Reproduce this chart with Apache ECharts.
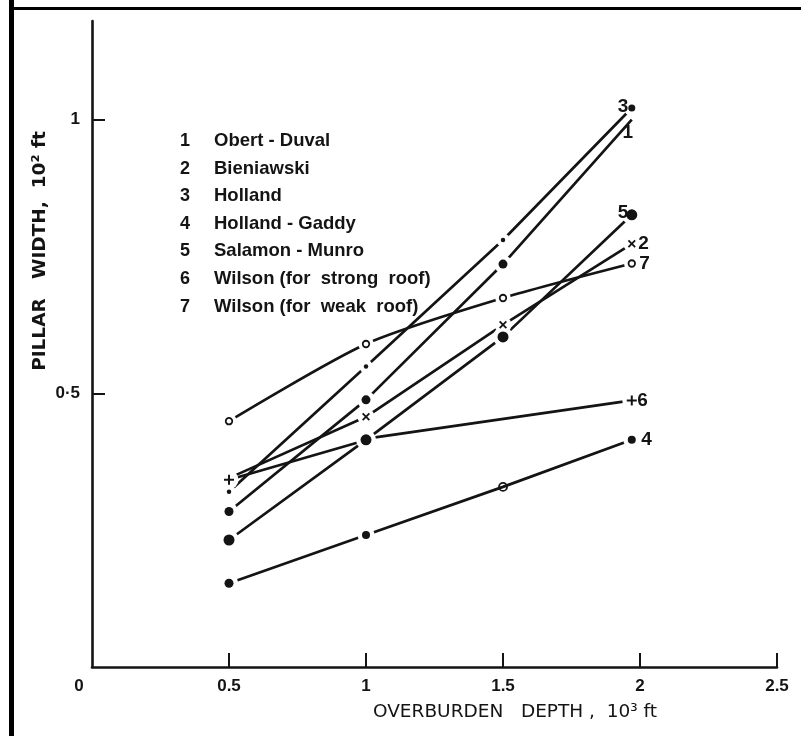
<!DOCTYPE html>
<html>
<head>
<meta charset="utf-8">
<script src="https://cdn.jsdelivr.net/npm/echarts@6/dist/echarts.min.js"></script>
<style>
  html, body { margin: 0; padding: 0; background: #ffffff; }
  #chart { width: 801px; height: 736px; }
</style>
</head>
<body>
<div id="chart"></div>
<script>
// Overburden depth stations, 10^3 ft
const depthStations = [0.5, 1.0, 1.5, 1.97];
const depthWilsonStrong = [0.5, 1.04, 1.97];

// Required pillar width, 10^2 ft, for each design formula
const obertDuval   = [0.284, 0.488, 0.736, 1.0];
const bieniawski   = [0.345, 0.457, 0.625, 0.773];
const holland      = [0.32, 0.549, 0.780, 1.021];
const hollandGaddy = [0.153, 0.241, 0.329, 0.415];
const salamonMunro = [0.232, 0.415, 0.603, 0.826];
const wilsonStrong = [0.342, 0.42, 0.487];
const wilsonWeak   = [0.449, 0.590, 0.674, 0.737];

const formulaNames = [
  'Obert - Duval', 'Bieniawski', 'Holland', 'Holland - Gaddy',
  'Salamon - Munro', 'Wilson (for  strong  roof)', 'Wilson (for  weak  roof)'
];
const curveTags = ['1', '2', '3', '4', '5', '6', '7'];
const xTicks = [0, 0.5, 1, 1.5, 2, 2.5];
const yTicks = [0.5, 1];

const INK = '#141414';
const FONT = '"Liberation Sans", Arial, sans-serif';
const WIDE_FONT = '"DejaVu Sans", "Liberation Sans", sans-serif';

// marker glyphs
const X_PATH = 'path://M0,1.6L1.6,0L5,3.4L8.4,0L10,1.6L6.6,5L10,8.4L8.4,10L5,6.6L1.6,10L0,8.4L3.4,5Z';
const PLUS_PATH = 'path://M4,0H6V4H10V6H6V10H4V6H0V4H4Z';
const MARK = {
  dot4:  { symbol: 'circle', size: 4.5, fill: INK },
  dot7:  { symbol: 'circle', size: 7,  fill: INK },
  dot8:  { symbol: 'circle', size: 8,  fill: INK },
  dot9:  { symbol: 'circle', size: 9,  fill: INK },
  dot11: { symbol: 'circle', size: 11, fill: INK },
  ring:  { symbol: 'circle', size: 6.5, fill: '#fff', ring: true },
  ring8: { symbol: 'circle', size: 8,  fill: 'rgba(0,0,0,0)', ring: true, noHalo: true },
  cross: { symbol: X_PATH, size: 8, fill: INK },
  plus:  { symbol: PLUS_PATH, size: 10, fill: INK }
};

// per-curve drawing setup: x stations, widths, marker kind per point, end tag placement
const curves = [
  { xs: depthStations, ys: obertDuval,   marks: ['dot9', 'dot9', 'dot9', null],
    tag: { position: 'bottom', distance: 3, offset: [-4, 0] } },
  { xs: depthStations, ys: bieniawski,   marks: [null, 'cross', 'cross', 'cross'],
    tag: { position: 'right', distance: 6, offset: [0, 0] } },
  { xs: depthStations, ys: holland,      marks: ['dot4', 'dot4', 'dot4', 'dot7'],
    tag: { position: 'left', distance: 3, offset: [0, -1] } },
  { xs: depthStations, ys: hollandGaddy, marks: ['dot9', 'dot8', 'ring8', 'dot8'],
    tag: { position: 'right', distance: 9, offset: [0, 0] } },
  { xs: depthStations, ys: salamonMunro, marks: ['dot11', 'dot11', 'dot11', 'dot11'],
    tag: { position: 'left', distance: 3, offset: [0, -2] } },
  { xs: depthWilsonStrong, ys: wilsonStrong, marks: ['plus', null, 'plus'],
    tag: { position: 'right', distance: 5, offset: [0, 0] } },
  { xs: depthStations, ys: wilsonWeak,   marks: ['ring', 'ring', 'ring', 'ring'], smooth: 0.25,
    tag: { position: 'right', distance: 7, offset: [0, 0] } }
];

const series = [];
const haloData = [];
const markData = [];
const tagData = [];

curves.forEach(function (c, k) {
  const pts = c.ys.map(function (y, i) { return [c.xs[i], y]; });
  series.push({
    type: 'line',
    name: formulaNames[k],
    data: pts,
    symbol: 'none',
    smooth: c.smooth || false,
    lineStyle: { color: INK, width: 2.7, opacity: 1 },
    z: 2,
    silent: true
  });
  pts.forEach(function (p, i) {
    const m = MARK[c.marks[i]];
    if (!m) return;
    if (!m.noHalo) {
      haloData.push({ value: p, symbol: 'circle', symbolSize: m.size + 9 });
    }
    markData.push({
      value: p,
      symbol: m.symbol,
      symbolSize: m.size,
      itemStyle: m.ring
        ? { color: m.fill, borderColor: INK, borderWidth: 1.8, opacity: 1 }
        : { color: m.fill, borderWidth: 0, opacity: 1 }
    });
  });
  const last = pts[pts.length - 1];
  tagData.push({
    value: last,
    label: Object.assign({ show: true, formatter: curveTags[k] }, c.tag)
  });
});

series.push({
  type: 'scatter', data: haloData, z: 3, silent: true,
  itemStyle: { color: '#ffffff', opacity: 1 }
});
series.push({
  type: 'scatter', data: markData, z: 4, silent: true,
  itemStyle: { opacity: 1 }
});
series.push({
  type: 'scatter', data: tagData, z: 5, silent: true,
  symbol: 'circle', symbolSize: 1,
  itemStyle: { color: 'rgba(0,0,0,0)', opacity: 1 },
  label: { color: INK, opacity: 1, fontFamily: FONT, fontSize: 19, fontWeight: 'bold' }
});

// legend block: index number and formula name
const legendGraphics = [];
formulaNames.forEach(function (name, i) {
  const y = 141 + i * 27.6;
  legendGraphics.push({
    type: 'text', x: 185, y: y,
    style: { text: curveTags[i], fill: INK, font: 'bold 18px ' + FONT, textAlign: 'center', textVerticalAlign: 'middle' }
  });
  legendGraphics.push({
    type: 'text', x: 214, y: y,
    style: { text: name, fill: INK, font: 'bold 18.5px ' + FONT, textAlign: 'left', textVerticalAlign: 'middle' }
  });
});

const chart = echarts.init(document.getElementById('chart'), null, { renderer: 'canvas' });
chart.setOption({
  animation: false,
  backgroundColor: '#ffffff',
  grid: { left: 92, right: 24, top: 21, bottom: 69 },
  xAxis: {
    type: 'value', min: 0, max: 2.5, interval: 0.5,
    axisLine: { show: true, lineStyle: { color: INK, width: 2.6 } },
    axisTick: { show: true, inside: true, length: 14, customValues: xTicks.slice(1), lineStyle: { color: INK, width: 2 } },
    axisLabel: {
      customValues: xTicks,
      margin: 11, color: INK, fontFamily: FONT, fontSize: 17, fontWeight: 'bold',
      formatter: function (v) { return v === 0 ? '{o|0}' : String(v); },
      rich: { o: { padding: [0, 26, 0, 0], color: INK, fontFamily: FONT, fontSize: 17, fontWeight: 'bold' } }
    },
    splitLine: { show: false }
  },
  yAxis: {
    type: 'value', min: 0, max: 1.18, interval: 0.5,
    axisLine: { show: true, lineStyle: { color: INK, width: 2.6 } },
    axisTick: { show: true, inside: true, length: 13, customValues: yTicks, lineStyle: { color: INK, width: 2 } },
    axisLabel: {
      customValues: yTicks,
      margin: 12, color: INK, fontFamily: FONT, fontSize: 17, fontWeight: 'bold',
      formatter: function (v) { return v === 1 ? '1' : '0·5'; }
    },
    splitLine: { show: false }
  },
  graphic: [
    // scan frame along the top and left edges
    { type: 'rect', shape: { x: 9, y: 0, width: 5, height: 736 }, style: { fill: '#000' } },
    { type: 'rect', shape: { x: 9, y: 7, width: 792, height: 3 }, style: { fill: '#000' } },
    {
      type: 'text', x: 515, y: 712,
      style: { text: 'OVERBURDEN   DEPTH ,  10³ ft', fill: INK, font: '18.5px ' + WIDE_FONT, textAlign: 'center', textVerticalAlign: 'middle' }
    },
    {
      type: 'text', x: 40, y: 251, rotation: Math.PI / 2,
      style: { text: 'PILLAR   WIDTH,  10² ft', fill: INK, font: 'bold 18.5px ' + WIDE_FONT, textAlign: 'center', textVerticalAlign: 'middle' }
    }
  ].concat(legendGraphics),
  series: series
});
</script>
</body>
</html>
